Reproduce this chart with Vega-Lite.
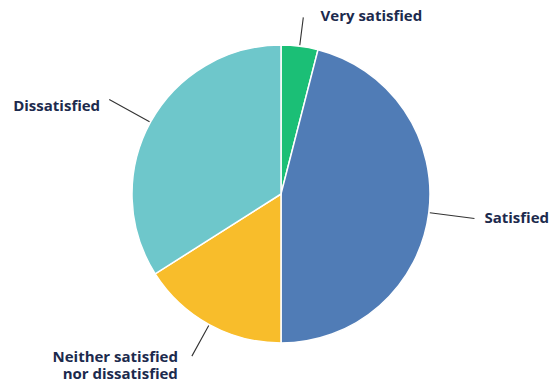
{
  "$schema": "https://vega.github.io/schema/vega-lite/v6.json",
  "width": 542,
  "height": 378,
  "autosize": {"type": "none"},
  "padding": {"left": 10, "top": 5, "right": 0, "bottom": 0},
  "background": "white",
  "config": {"view": {"stroke": null}},
  "data": {
    "values": [
      {"category": "Very satisfied", "label": "Very satisfied", "rank": 1, "value": 4},
      {"category": "Satisfied", "label": "Satisfied", "rank": 2, "value": 46},
      {"category": "Neither satisfied nor dissatisfied", "label": "Neither satisfied\nnor dissatisfied", "rank": 3, "value": 16},
      {"category": "Dissatisfied", "label": "Dissatisfied", "rank": 4, "value": 34}
    ]
  },
  "encoding": {
    "theta": {"field": "value", "type": "quantitative", "stack": true, "scale": {"domain": [0, 100]}},
    "order": {"field": "rank", "type": "quantitative"}
  },
  "layer": [
    {
      "mark": {"type": "arc", "outerRadius": 149, "stroke": "white", "strokeWidth": 1.5},
      "encoding": {
        "color": {
          "field": "category",
          "type": "nominal",
          "scale": {
            "domain": ["Very satisfied", "Satisfied", "Neither satisfied nor dissatisfied", "Dissatisfied"],
            "range": ["#1bbf76", "#507cb6", "#f8bd2b", "#6ec7cb"]
          },
          "legend": null
        }
      }
    },
    {
      "mark": {"type": "arc", "radius": 178, "radius2": 150, "padAngle": 3.14, "stroke": "#333333", "strokeWidth": 1.1, "fillOpacity": 0},
      "encoding": {
        "strokeOpacity": {"condition": {"test": "datum.category === 'Very satisfied'", "value": 1}, "value": 0}
      }
    },
    {
      "mark": {"type": "arc", "radius": 195, "radius2": 150, "padAngle": 3.14, "stroke": "#333333", "strokeWidth": 1.1, "fillOpacity": 0},
      "encoding": {
        "strokeOpacity": {"condition": {"test": "datum.category === 'Satisfied'", "value": 1}, "value": 0}
      }
    },
    {
      "mark": {"type": "arc", "radius": 185, "radius2": 150, "padAngle": 3.14, "stroke": "#333333", "strokeWidth": 1.1, "fillOpacity": 0},
      "encoding": {
        "strokeOpacity": {"condition": {"test": "datum.category === 'Neither satisfied nor dissatisfied'", "value": 1}, "value": 0}
      }
    },
    {
      "mark": {"type": "arc", "radius": 196, "radius2": 150, "padAngle": 3.14, "stroke": "#333333", "strokeWidth": 1.1, "fillOpacity": 0},
      "encoding": {
        "strokeOpacity": {"condition": {"test": "datum.category === 'Dissatisfied'", "value": 1}, "value": 0}
      }
    },
    {
      "mark": {"type": "text", "radius": 180, "align": "left", "baseline": "middle", "dx": 17, "dy": 1, "font": "Open Sans", "fontWeight": "bold", "fontSize": 15, "fill": "#1c2a4d"},
      "encoding": {
        "text": {"condition": {"test": "datum.category === 'Very satisfied'", "field": "label", "type": "nominal"}, "value": ""}
      }
    },
    {
      "mark": {"type": "text", "radius": 200, "align": "left", "baseline": "middle", "dx": 5, "dy": -1, "font": "Open Sans", "fontWeight": "bold", "fontSize": 15, "fill": "#1c2a4d"},
      "encoding": {
        "text": {"condition": {"test": "datum.category === 'Satisfied'", "field": "label", "type": "nominal"}, "value": ""}
      }
    },
    {
      "mark": {"type": "text", "radius": 195, "align": "right", "baseline": "middle", "dx": -10, "dy": 6, "font": "Open Sans", "fontWeight": "bold", "fontSize": 15, "fill": "#1c2a4d"},
      "encoding": {
        "text": {"condition": {"test": "datum.category === 'Dissatisfied'", "field": "label", "type": "nominal"}, "value": ""}
      }
    },
    {
      "mark": {"type": "text", "radius": 185, "align": "right", "baseline": "middle", "dx": -14, "dy": 1, "lineBreak": "\n", "lineHeight": 17, "font": "Open Sans", "fontWeight": "bold", "fontSize": 15, "fill": "#1c2a4d"},
      "encoding": {
        "text": {"condition": {"test": "datum.category === 'Neither satisfied nor dissatisfied'", "field": "label", "type": "nominal"}, "value": ""}
      }
    }
  ]
}
